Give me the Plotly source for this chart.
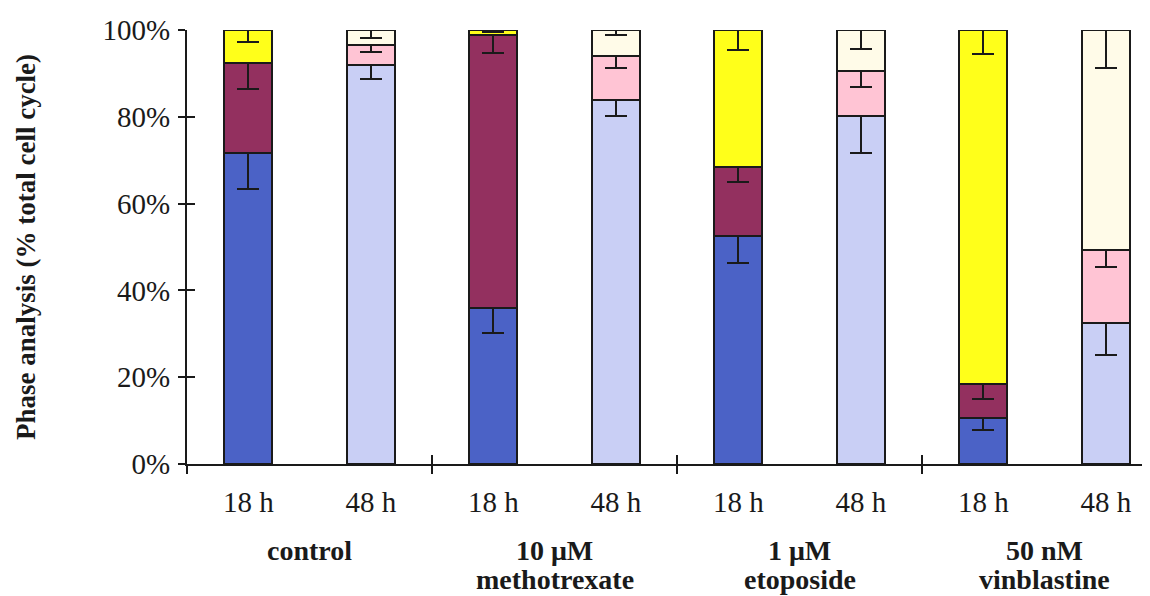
import plotly.graph_objects as go

# ---- data ----
bar_labels = ["18 h", "48 h", "18 h", "48 h", "18 h", "48 h", "18 h", "48 h"]
group_line1 = ["control", "10 μM", "1 μM", "50 nM"]
group_line2 = ["", "methotrexate", "etoposide", "vinblastine"]

g1_vals = [71.7, 91.9, 35.9, 83.9, 52.5, 80.2, 10.5, 32.6]
s_vals = [20.8, 4.6, 62.9, 10.0, 16.0, 10.4, 7.9, 16.7]
g2m_vals = [7.5, 3.5, 1.2, 6.1, 31.5, 9.4, 81.6, 50.7]

g1_err = [8.3, 3.2, 5.6, 3.6, 6.2, 8.6, 2.7, 7.5]
s_err = [6.2, 1.6, 4.2, 2.6, 3.5, 3.7, 3.5, 3.8]
g2m_err = [2.7, 1.9, 0.5, 1.2, 4.5, 4.4, 5.6, 8.8]

y_ticks = [0, 20, 40, 60, 80, 100]
y_ticktext = ["0%", "20%", "40%", "60%", "80%", "100%"]

# colours: 18 h bars / 48 h bars
g1_colors = ["#4b62c6", "#c9cff5"]
s_colors = ["#93305f", "#ffc4d4"]
g2m_colors = ["#ffff1a", "#fffbe8"]

x_pos = list(range(len(bar_labels)))
group_centers = [0.5, 2.5, 4.5, 6.5]
group_bounds = [-0.5, 1.5, 3.5, 5.5, 7.5]

FONT = "Liberation Serif, Times New Roman, serif"
INK = "#1a1a1a"
TICK_SIZE = 29
GROUP_SIZE = 28

def colors_for(pair):
    return [pair[i % 2] for i in range(len(bar_labels))]

fig = go.Figure()
for vals, errs, cols in [(g1_vals, g1_err, g1_colors),
                         (s_vals, s_err, s_colors),
                         (g2m_vals, g2m_err, g2m_colors)]:
    fig.add_trace(go.Bar(
        x=x_pos, y=vals, width=0.395,
        marker=dict(color=colors_for(cols), line=dict(color=INK, width=2)),
        error_y=dict(type="data", symmetric=False, array=[0] * len(errs),
                     arrayminus=errs, color=INK, thickness=2, width=11),
        showlegend=False, hoverinfo="skip",
    ))

# invisible helper traces so overlay axes (cross ticks) are drawn
fig.add_trace(go.Scatter(x=[0], y=[0], xaxis="x2", yaxis="y", mode="markers",
                         marker=dict(opacity=0), showlegend=False, hoverinfo="skip"))
fig.add_trace(go.Scatter(x=[0], y=[0], xaxis="x3", yaxis="y2", mode="markers",
                         marker=dict(opacity=0), showlegend=False, hoverinfo="skip"))

# page body has an 8px margin: figure 1142x588 placed at (8, 8)
xmax = -0.5 + (1150 - 187) / 122.5
xr = [-0.5, xmax]

fig.update_layout(
    width=1142, height=588,
    margin=dict(l=179, r=0, t=22, b=132),
    paper_bgcolor="white", plot_bgcolor="white",
    barmode="stack",
    font=dict(family=FONT, color=INK, size=TICK_SIZE),
    xaxis=dict(range=xr, tickmode="array", tickvals=x_pos, ticktext=bar_labels,
               ticks="", showline=True, linecolor=INK, linewidth=2,
               showgrid=False, zeroline=False, ticklabelstandoff=11,
               automargin=False,
               tickfont=dict(family=FONT, size=TICK_SIZE, color=INK)),
    xaxis2=dict(range=xr, overlaying="x", anchor="y", tickmode="array",
                tickvals=group_bounds, ticks="outside", ticklen=9, tickwidth=2,
                tickcolor=INK, showticklabels=False, showline=False,
                showgrid=False, zeroline=False, automargin=False),
    xaxis3=dict(range=xr, overlaying="x", anchor="y2", tickmode="array",
                tickvals=group_bounds, ticks="inside", ticklen=9, tickwidth=2,
                tickcolor=INK, showticklabels=False, showline=False,
                showgrid=False, zeroline=False, automargin=False),
    yaxis=dict(range=[0, 100], tickmode="array", tickvals=y_ticks,
               ticktext=y_ticktext, ticks="outside", ticklen=7, tickwidth=2,
               tickcolor=INK, showline=True, linecolor=INK, linewidth=2,
               showgrid=False, zeroline=False, ticklabelstandoff=2,
               automargin=False,
               tickfont=dict(family=FONT, size=TICK_SIZE, color=INK),
               title=dict(text="<b>Phase analysis (% total cell cycle)</b>",
                          font=dict(family=FONT, size=27, color=INK),
                          standoff=59)),
    yaxis2=dict(range=[0, 100], overlaying="y", anchor="x", tickmode="array",
                tickvals=y_ticks, ticks="inside", ticklen=8, tickwidth=2,
                tickcolor=INK, showticklabels=False, showline=False,
                showgrid=False, zeroline=False, automargin=False),
)

for xc, l1, l2 in zip(group_centers, group_line1, group_line2):
    fig.add_annotation(x=xc, xref="x", y=-86 / 434, yref="paper", text=f"<b>{l1}</b>",
                       showarrow=False, yanchor="middle",
                       font=dict(family=FONT, size=GROUP_SIZE, color=INK))
    if l2:
        fig.add_annotation(x=xc, xref="x", y=-115 / 434, yref="paper", text=f"<b>{l2}</b>",
                           showarrow=False, yanchor="middle",
                           font=dict(family=FONT, size=GROUP_SIZE, color=INK))

fig.write_html("out.html")
